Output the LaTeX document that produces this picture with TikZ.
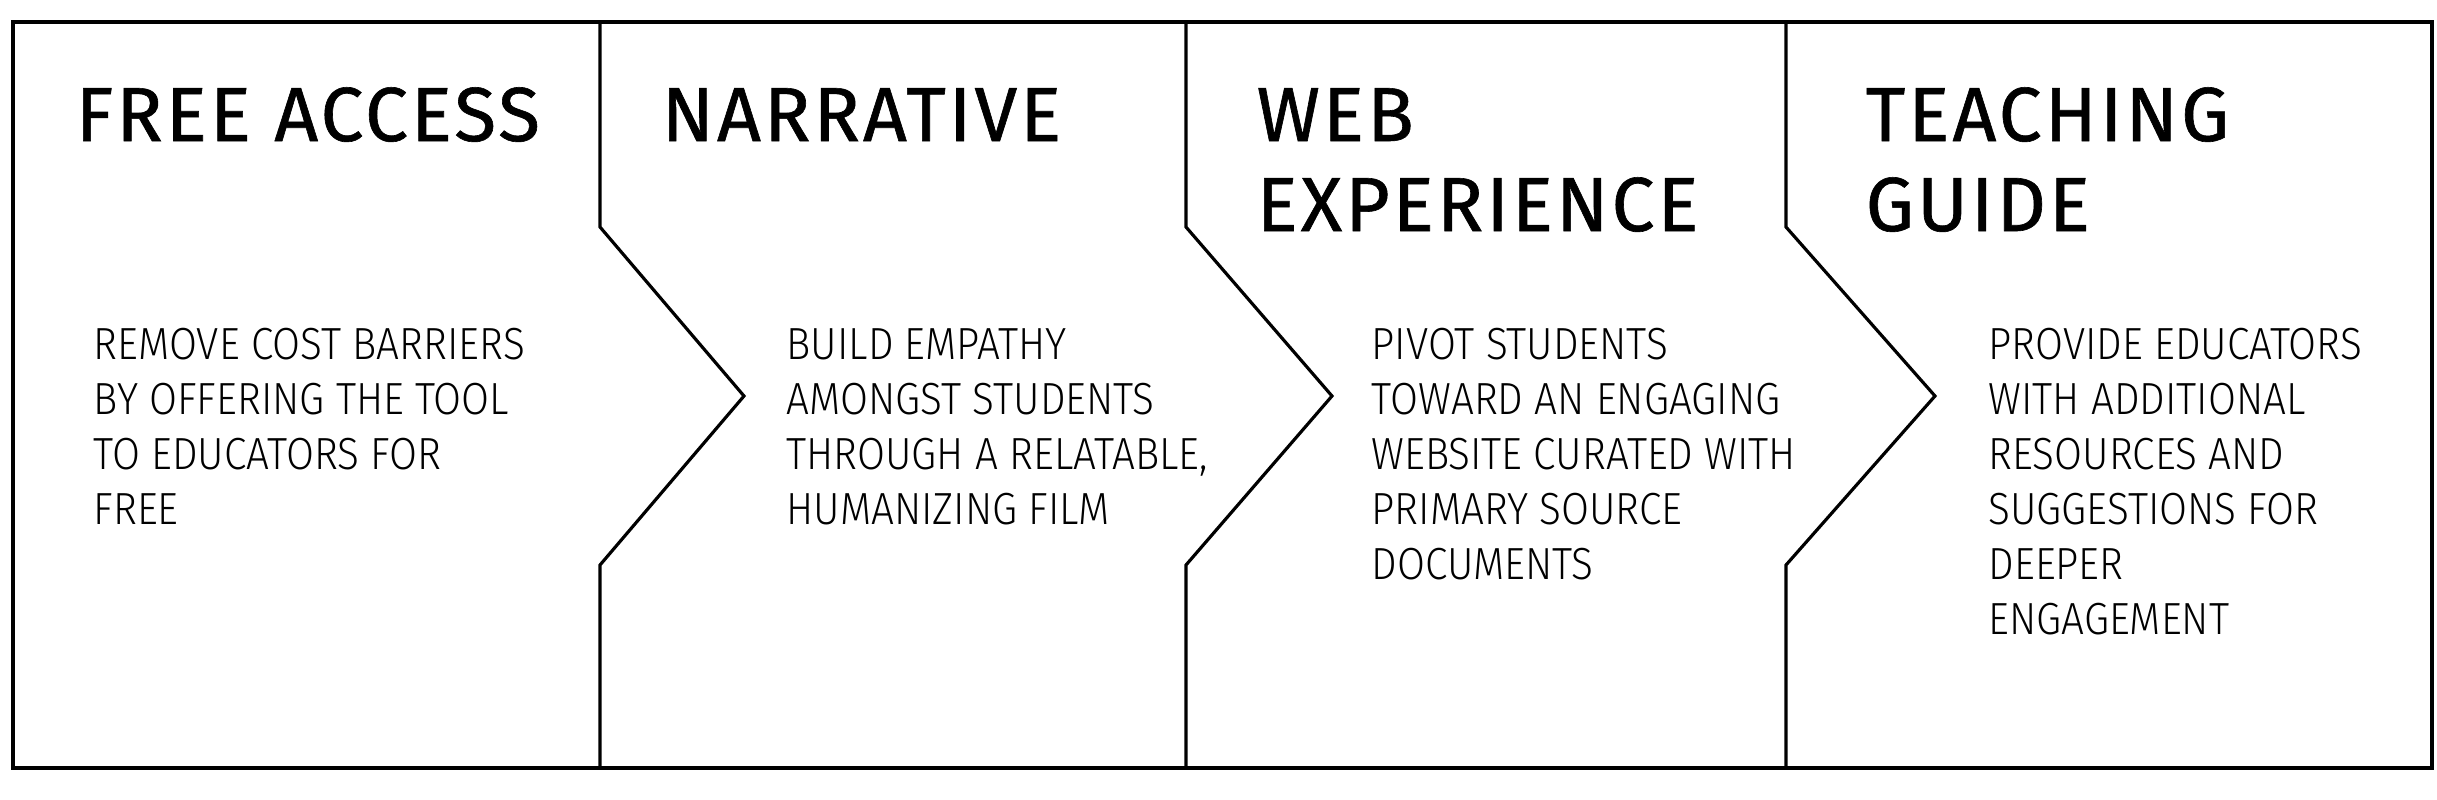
\documentclass[tikz,border=0pt]{standalone}
\usepackage{fontspec}
\setmainfont{Fira Sans}
\newfontfamily\titlefont[LetterSpace=4,FakeBold=0.8]{Fira Sans}
\newfontfamily\bodyfont[FakeStretch=0.9]{Fira Sans Light}
\begin{document}
\begin{tikzpicture}[x=0.3pt,y=-0.3pt,
  frame/.style={line width=0.95pt,line join=miter},
  title/.style={anchor=base west,inner sep=0pt,align=left,font=\titlefont\fontsize{23pt}{27pt}\selectfont},
  body/.style={anchor=base west,inner sep=0pt,align=left,font=\bodyfont\fontsize{13.5pt}{16.5pt}\selectfont}]
\useasboundingbox (0,0) rectangle (2437,799);
\draw[frame] (13,22) rectangle (2432,768);
\draw[frame] (600,22) -- (600,227) -- (744,396) -- (600,565) -- (600,768);
\draw[frame] (1186,22) -- (1186,227) -- (1332,396) -- (1186,565) -- (1186,768);
\draw[frame] (1786,22) -- (1786,227) -- (1935,396) -- (1786,565) -- (1786,768);
% multi-line nodes are anchored at the baseline of their last line
\node[title] (t1) at (75,141) {FREE ACCESS};
\node[title] (t2) at (661,141) {NARRATIVE};
\node[title] (t3) at (1256,231) {WEB\\EXPERIENCE};
\node[title] (t4) at (1865,231) {TEACHING\\GUIDE};
\node[body] (b1) at (93,524) {REMOVE COST BARRIERS\\BY OFFERING THE TOOL\\TO EDUCATORS FOR\\FREE};
\node[body] (b2) at (786,524) {BUILD EMPATHY\\AMONGST STUDENTS\\THROUGH A RELATABLE,\\HUMANIZING FILM};
\node[body] (b3) at (1371,579) {PIVOT STUDENTS\\TOWARD AN ENGAGING\\WEBSITE CURATED WITH\\PRIMARY SOURCE\\DOCUMENTS};
\node[body] (b4) at (1988,634) {PROVIDE EDUCATORS\\WITH ADDITIONAL\\RESOURCES AND\\SUGGESTIONS FOR\\DEEPER\\ENGAGEMENT};
\end{tikzpicture}
\end{document}
